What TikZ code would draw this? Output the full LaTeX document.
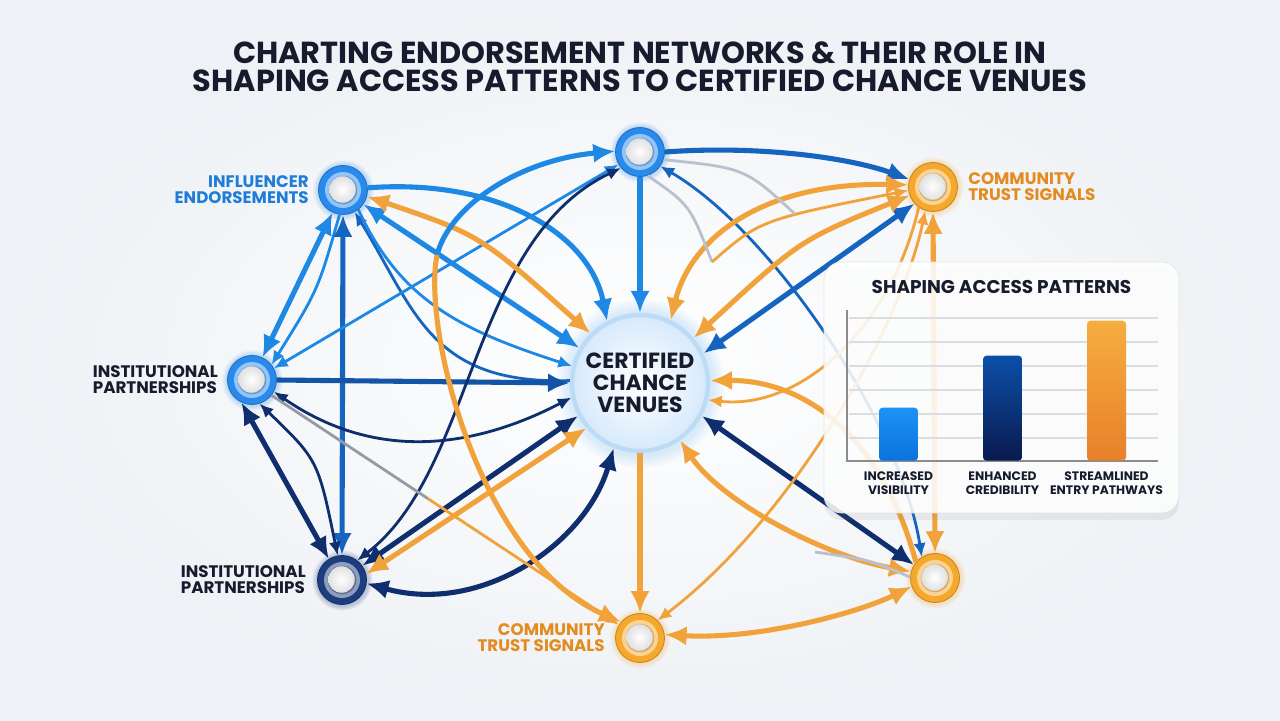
\documentclass[tikz,border=0pt]{standalone}
\usepackage{fontspec}
\setmainfont{Poppins}
\usetikzlibrary{positioning, arrows.meta, calc, shadows, fadings}

\definecolor{bgcol}{HTML}{EEF1F5}
\definecolor{blueA}{HTML}{1E88E5}
\definecolor{blueB}{HTML}{1565C0}
\definecolor{navy}{HTML}{0F2E6E}
\definecolor{orangeA}{HTML}{F2A23A}
\definecolor{hubBlue}{HTML}{2A8AEC}
\definecolor{hubNavy}{HTML}{1E3D7E}
\definecolor{hubOrange}{HTML}{F6A82C}
\definecolor{grayline}{HTML}{B9C1CC}
\definecolor{inkdark}{HTML}{161C2D}
\definecolor{lblBlue}{HTML}{1F7DD8}
\definecolor{lblOrange}{HTML}{E38B1F}
\definecolor{gridgray}{HTML}{D9DDE4}

\begin{document}
\begin{tikzpicture}[x=0.02cm, y=-0.02cm,
    hub/.style={circle, inner sep=0pt, minimum size=0.98cm, fill=#1, draw=#1!80!black, line width=0.5pt,
        circular glow={fill=#1, opacity=0.25},
        path picture={
            \fill[#1!50!white] (path picture bounding box.center) circle (0.36cm);
            \fill[#1!80!black!70] (path picture bounding box.center) circle (0.285cm);
            \shade[inner color=white, outer color=black!12] ([xshift=-0.01cm, yshift=0.01cm]path picture bounding box.center) circle (0.265cm);
        }},
    core/.style={circle, minimum size=2.72cm, inner sep=0pt, align=center, draw=blueA!30, line width=2.5pt,
        inner color=white, outer color=blueA!18, circular glow={fill=blueA!45, opacity=0.35},
        text=inkdark, font=\bfseries\fontsize{12.5}{12.5}\selectfont},
    lbl/.style={inner sep=0pt, font=\bfseries\fontsize{9.5}{9.2}\selectfont},
    lnk/.style={line width=2.9pt},
    fine/.style={line width=1.6pt},
    tip/.style={-{Latex[length=2pt 3.6, width=2pt 3.1]}},
    twin/.style={{Latex[length=2pt 3.6, width=2pt 3.1]}-{Latex[length=2pt 3.6, width=2pt 3.1]}},
    panel/.style={draw=black!10, fill=white, fill opacity=0.86, rounded corners=10pt,
        minimum width=7.1cm, minimum height=5.02cm, drop shadow={opacity=0.12, shadow xshift=0pt, shadow yshift=-4pt}},
    bar/.style={minimum width=0.78cm, inner sep=0pt, rounded corners=2pt, anchor=south},
    barlbl/.style={inner sep=0pt, align=center, text=inkdark, font=\bfseries\fontsize{7}{8}\selectfont}
]

    % Canvas
    \fill[bgcol] (0,0) rectangle (1280,720);
    \shade[inner color=white, outer color=bgcol] (0,0) rectangle (1280,720);
    \useasboundingbox (0,0) rectangle (1280,720);

    % Title
    \node[text=inkdark, align=center, font=\bfseries\fontsize{17.3}{16}\selectfont] (ttl) at (640,67)
        {CHARTING ENDORSEMENT NETWORKS \& THEIR ROLE IN\\SHAPING ACCESS PATTERNS TO CERTIFIED CHANCE VENUES};

    % Hubs
    \node[core] (C) at (640,383) {CERTIFIED\\CHANCE\\VENUES};
    \node[hub=hubBlue] (I) at (343,190) {};
    \node[hub=hubBlue] (T) at (640,152) {};
    \node[hub=hubBlue] (M) at (252,380) {};
    \node[hub=hubNavy] (B) at (342,580) {};
    \node[hub=hubOrange] (R) at (933,187) {};
    \node[hub=hubOrange] (O) at (640,638) {};
    \node[hub=hubOrange] (Q) at (935,578) {};

    % Hub labels
    \node[lbl, text=lblBlue, align=right, left=0.18cm of I] (Ilbl) {INFLUENCER\\ENDORSEMENTS};
    \node[lbl, text=inkdark, align=left, left=0.18cm of M] (Mlbl) {INSTITUTIONAL\\PARTNERSHIPS};
    \node[lbl, text=inkdark, align=left, left=0.22cm of B] (Blbl) {INSTITUTIONAL\\PARTNERSHIPS};
    \node[lbl, text=lblOrange, align=right, left=0.2cm of O] (Olbl) {COMMUNITY\\TRUST SIGNALS};
    \node[lbl, text=lblOrange, align=left, right=0.2cm of R] (Rlbl) {COMMUNITY\\TRUST SIGNALS};

    % Blue links
    \draw[lnk, blueA, tip] (I.5) .. controls (500,178) and (590,235) .. (C.118);
    \draw[lnk, blueA, twin] (I.-35) -- (C.150);
    \draw[lnk, blueA, twin] (I.-115) -- (M.65);
    \draw[fine, blueA, tip] (I.-98) .. controls (318,290) .. (M.38);
    \draw[lnk, blueB, twin] (B.north) -- (I.south);
    \draw[fine, blueB, tip] (C.178) .. controls (430,385) and (415,310) .. (I.-62);
    \draw[fine, blueA, twin] (M.28) -- (T.-150);
    \draw[fine, blueA, tip] (I.-52) .. controls (400,300) and (460,330) .. (C.166);
    \draw[lnk, blueB!70!navy, tip] (M.east) -- (C.west);
    \draw[lnk, blueA, tip] (T.south) -- (C.north);
    \draw[lnk, blueB, tip] (T.east) .. controls (760,145) and (850,158) .. (R.162);
    \draw[fine, blueB, twin] (T.-35) .. controls (770,230) and (900,420) .. (Q.122);
    \draw[lnk, blueB, twin] (C.25) -- (R.-138);

    % Navy links
    \draw[lnk, navy, twin] (C.-28) -- (Q.148);
    \draw[fine, navy, twin] (M.-28) .. controls (380,465) and (480,445) .. (C.-168);
    \draw[fine, navy, twin] (T.-140) .. controls (470,240) and (475,470) .. (B.52);
    \draw[lnk, navy, twin] (B.35) -- (C.-152);
    \draw[lnk, navy, twin] (B.-8) .. controls (480,615) and (585,545) .. (C.-112);
    \draw[lnk, navy, twin] (M.-115) -- (B.122);
    \draw[fine, navy, twin] (M.-72) .. controls (318,460) .. (B.100);

    % Orange links
    \coordinate (mo) at ($(M.-38)!0.45!(O.148)$);
    \draw[fine, grayline!80!black] (M.-38) -- (mo);
    \draw[fine, orangeA, tip] (mo) -- (O.148);
    \draw[lnk, orangeA, twin] (I.-15) .. controls (480,235) .. (C.135);
    \draw[lnk, orangeA, twin] (R.175) .. controls (760,182) and (690,240) .. (C.64);
    \draw[lnk, orangeA, twin] (R.-160) .. controls (800,240) .. (C.40);
    \coordinate (tr) at (712,262);
    \draw[fine, grayline] (T.-72) .. controls (690,205) .. (tr);
    \draw[fine, orangeA, tip] (tr) .. controls (760,220) .. (R.-172);
    \coordinate (gt) at (795,214);
    \draw[fine, grayline] (T.-18) .. controls (745,168) .. (gt);
    \coordinate (to1) at (437,255);
    \draw[lnk, blueA, {Latex[length=2pt 3.6, width=2pt 3.1]}-] (T.178) .. controls (520,160) and (450,205) .. (to1);
    \draw[lnk, orangeA, tip] (to1) .. controls (422,330) and (480,560) .. (O.140);
    \draw[lnk, orangeA, twin] (C.-140) -- (B.14);
    \draw[lnk, orangeA, tip] (C.south) -- (O.north);
    \draw[lnk, orangeA, twin] (Q.165) .. controls (820,555) and (720,500) .. (C.-55);
    \draw[lnk, orangeA, twin] (O.8) .. controls (760,640) and (860,612) .. (Q.-160);
    \draw[fine, orangeA, twin] (O.45) .. controls (790,520) and (900,330) .. (R.-108);
    \draw[lnk, orangeA, twin] (R.south) -- (Q.north);
    \draw[lnk, orangeA, tip] (Q.140) .. controls (880,430) and (800,380) .. (C.2);
    \draw[fine, orangeA, tip] (R.-125) .. controls (890,330) and (800,410) .. (C.-14);
    \coordinate (gq) at (815,552);
    \draw[fine, grayline] (gq) .. controls (870,560) .. (Q.178);

    % Chart panel
    \node[panel] (chart) at (1001.5,387.5) {};
    \node[inner sep=0pt, text=inkdark, font=\bfseries\fontsize{10.5}{12}\selectfont, below=0.36cm of chart.north] (chtitle) {SHAPING ACCESS PATTERNS};
    \foreach \gy in {318,342,366,390,414,438}
        \draw[gridgray, line width=0.6pt] (849,\gy) -- (1158,\gy);
    \draw[black!45, line width=0.8pt] (847,310) -- (847,461) -- (1158,461);

    % Bars
    \foreach \i/\bx/\bh/\ct/\cb/\txt in {
        1/898.5/1.06/1C93F5/0B72DC/{INCREASED\\VISIBILITY},
        2/1002.5/2.10/0B4FA8/0A1A4F/{ENHANCED\\CREDIBILITY},
        3/1106.5/2.80/F5AE40/E8802A/{STREAMLINED\\ENTRY PATHWAYS}} {
        \definecolor{ctop}{HTML}{\ct}
        \definecolor{cbot}{HTML}{\cb}
        \node[bar, top color=ctop, bottom color=cbot, minimum height=\bh cm] (bar\i) at (\bx,461) {};
        \node[barlbl, below=0.2cm of bar\i.south] (barlbl\i) {\txt};
    }

\end{tikzpicture}
\end{document}
